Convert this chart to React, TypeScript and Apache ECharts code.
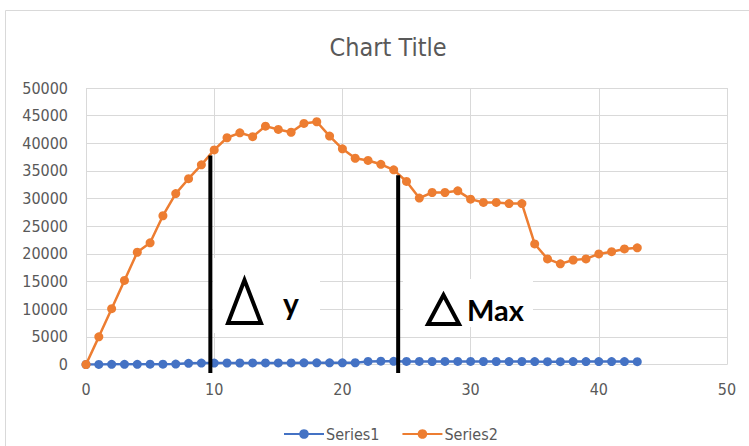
import React, { useEffect, useRef } from "react";
import * as echarts from "echarts";

// x positions 0..43
const xValues: number[] = Array.from({ length: 44 }, (_, i) => i);

const series1: number[] = [
  0, 20, 30, 30, 40, 50, 60, 80, 220, 250, 260, 270, 270, 280, 280, 290, 290, 300, 300, 310, 310, 320,
  560, 600, 580, 560, 550, 540, 550, 560, 550, 540, 540, 530, 540, 520, 510, 510, 520, 520, 530, 530, 520, 510,
];

const series2: number[] = [
  0, 5000, 10100, 15200, 20300, 22000, 26900, 30900, 33600, 36100, 38800, 41000, 41900, 41200, 43100, 42500,
  42000, 43600, 43900, 41300, 39000, 37300, 36900, 36200, 35200, 33100, 30100, 31100, 31100, 31400, 29900,
  29300, 29300, 29100, 29100, 21800, 19100, 18200, 18900, 19100, 20000, 20400, 20900, 21100,
];

// vertical marker lines (x, top value, bottom value)
const deltaYLine: number[][] = [
  [9.7, 37800],
  [9.7, -1530],
];
const deltaMaxLine: number[][] = [
  [24.35, 34200],
  [24.35, -1530],
];

const legendNames: string[] = ["Series1", "Series2"];

const GRAY = "#595959";
const GRID = "#d9d9d9";
const FONT = "'Liberation Sans Narrow', 'DejaVu Sans Condensed', 'Roboto', sans-serif";
const BOLD_FONT = "Lato, 'Open Sans', sans-serif";

export default function App() {
  const ref = useRef<HTMLDivElement | null>(null);

  useEffect(() => {
    if (!ref.current) return;
    const chart = echarts.init(ref.current, undefined, { renderer: "svg" });

    const pair = (vals: number[]) => vals.map((v, i) => [xValues[i], v]);

    const option: echarts.EChartsOption = {
      animation: false,
      backgroundColor: "#ffffff",
      title: {
        text: "Chart Title",
        left: 383,
        textAlign: "center",
        top: 30,
        textStyle: { color: GRAY, fontFamily: FONT, fontSize: 25, fontWeight: "normal" },
      },
      grid: { left: 86, right: 22, top: 88, bottom: 81.5, containLabel: false },
      xAxis: {
        type: "value",
        min: 0,
        max: 50,
        interval: 10,
        axisLine: { show: true, lineStyle: { color: GRID, width: 1 } },
        axisTick: { show: false },
        splitLine: { show: true, lineStyle: { color: GRID, width: 1 } },
        axisLabel: { color: GRAY, fontFamily: FONT, fontSize: 16, margin: 17 },
      },
      yAxis: {
        type: "value",
        min: 0,
        max: 50000,
        interval: 5000,
        axisLine: { show: false },
        axisTick: { show: false },
        splitLine: { show: true, lineStyle: { color: GRID, width: 1 } },
        axisLabel: {
          color: GRAY,
          fontFamily: FONT,
          fontSize: 16,
          margin: 18,
          formatter: (v: number) => String(v),
        },
      },
      legend: {
        data: legendNames,
        left: 278,
        top: 421,
        itemWidth: 40,
        itemHeight: 12,
        itemGap: 22,
        textStyle: { color: GRAY, fontFamily: FONT, fontSize: 16, padding: [0, 0, 0, -3] },
      },
      series: [
        {
          name: legendNames[0],
          type: "line",
          data: pair(series1),
          symbol: "circle",
          symbolSize: 9,
          lineStyle: { color: "#4472C4", width: 2.5 },
          itemStyle: { color: "#4472C4" },
          z: 3,
        },
        {
          name: legendNames[1],
          type: "line",
          data: pair(series2),
          symbol: "circle",
          symbolSize: 9,
          lineStyle: { color: "#ED7D31", width: 2.5 },
          itemStyle: { color: "#ED7D31" },
          z: 4,
        },
        {
          name: "deltaY",
          type: "line",
          data: deltaYLine,
          symbol: "none",
          clip: false,
          silent: true,
          lineStyle: { color: "#000000", width: 4 },
          z: 5,
        },
        {
          name: "deltaMax",
          type: "line",
          data: deltaMaxLine,
          symbol: "none",
          clip: false,
          silent: true,
          lineStyle: { color: "#000000", width: 4 },
          z: 5,
        },
      ],
      graphic: [
        // chart frame
        {
          type: "rect",
          shape: { x: 5.5, y: 10.5, width: 800, height: 500 },
          style: { fill: "none", stroke: GRID, lineWidth: 1 },
          silent: true,
          z: 0,
        },
        // Δ y label
        {
          type: "rect",
          shape: { x: 213, y: 258, width: 107, height: 75 },
          style: { fill: "#ffffff" },
          z: 50,
        },
        {
          type: "polygon",
          shape: { points: [[244.5, 280], [228, 323], [261, 323]] },
          style: { fill: "none", stroke: "#000000", lineWidth: 4, lineJoin: "miter" },
          z: 51,
        },
        {
          type: "text",
          x: 283,
          y: 303,
          style: {
            text: "y",
            fill: "#000000",
            font: `bold 30px ${BOLD_FONT}`,
            align: "left",
            verticalAlign: "middle",
          },
          z: 51,
        },
        // Δ Max label
        {
          type: "rect",
          shape: { x: 403, y: 279, width: 130, height: 48 },
          style: { fill: "#ffffff" },
          z: 50,
        },
        {
          type: "polygon",
          shape: { points: [[443.5, 295], [428, 324], [459, 324]] },
          style: { fill: "none", stroke: "#000000", lineWidth: 4, lineJoin: "miter" },
          z: 51,
        },
        {
          type: "text",
          x: 467,
          y: 309,
          style: {
            text: "Max",
            fill: "#000000",
            font: `bold 29px ${BOLD_FONT}`,
            align: "left",
            verticalAlign: "middle",
          },
          z: 51,
        },
      ],
    };

    chart.setOption(option);
    return () => chart.dispose();
  }, []);

  return (
    <div
      ref={ref}
      style={{ position: "fixed", left: 0, top: 0, width: 749, height: 446, background: "#fff" }}
    />
  );
}
